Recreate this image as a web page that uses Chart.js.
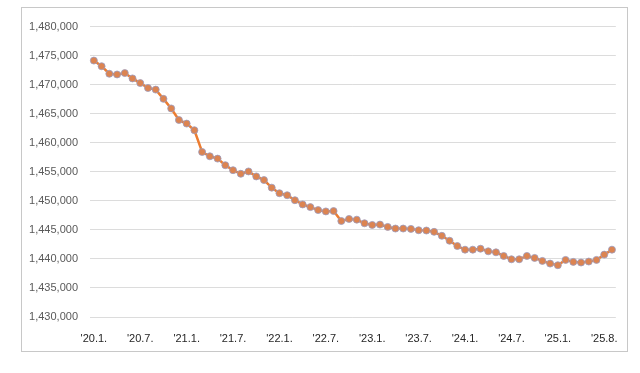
<!DOCTYPE html>
<html>
<head>
<meta charset="utf-8">
<script src="https://cdn.jsdelivr.net/npm/chart.js@4"></script>
<style>
  body { margin: 0; background: #fff; }
  #box {
    position: absolute; left: 21px; top: 7px;
    width: 605px; height: 343px;
    border: 1px solid #c8c8c8;
  }
  canvas { display: block; }
</style>
</head>
<body>
<div id="box"><canvas id="chart" width="605" height="343"></canvas></div>
<script>
// monthly values, '20.1. onward (68 points)
const values = [
  1474150, 1473180, 1471880, 1471760, 1472000, 1471080, 1470280, 1469430, 1469150, 1467560,
  1465910, 1463920, 1463300, 1462160, 1458410, 1457670, 1457270, 1456140, 1455280, 1454660,
  1455060, 1454200, 1453580, 1452270, 1451310, 1450970, 1450110, 1449380, 1448920, 1448410,
  1448180, 1448240, 1446530, 1446880, 1446760, 1446140, 1445850, 1445910, 1445510, 1445230,
  1445230, 1445170, 1444940, 1444890, 1444660, 1443980, 1443130, 1442220, 1441590, 1441590,
  1441760, 1441310, 1441140, 1440510, 1439940, 1439940, 1440510, 1440170, 1439660, 1439200,
  1438920, 1439830, 1439490, 1439380, 1439550, 1439830, 1440740, 1441590
];

// labels shown every 6th point
const xTickLabels = ["'20.1.", "'20.7.", "'21.1.", "'21.7.", "'22.1.", "'22.7.",
  "'23.1.", "'23.7.", "'24.1.", "'24.7.", "'25.1.", "'25.8."];

const yMin = 1430000;
const yMax = 1480000;
const yStep = 5000;

const categories = values.map((v, i) => i);

new Chart(document.getElementById('chart').getContext('2d'), {
  type: 'line',
  data: {
    labels: categories,
    datasets: [{
      data: values,
      borderColor: '#ed7d31',
      borderWidth: 2.5,
      pointRadius: 3.5,
      pointBackgroundColor: '#dc8451',
      pointBorderColor: '#9a9cc0',
      pointBorderWidth: 0.8,
      tension: 0
    }]
  },
  options: {
    responsive: false,
    animation: false,
    layout: { padding: { top: 16, right: 1, left: 0, bottom: 0 } },
    plugins: { legend: { display: false }, tooltip: { enabled: false } },
    scales: {
      x: {
        offset: true,
        grid: { display: false, drawTicks: false },
        border: { display: false },
        afterFit: s => { s.height = 34; },
        ticks: {
          autoSkip: false,
          maxRotation: 0,
          padding: 15,
          color: '#262626',
          font: { family: 'Liberation Sans', size: 11 },
          callback: (val, i) => i % 6 === 0 ? xTickLabels[i / 6] : ''
        }
      },
      y: {
        min: yMin,
        max: yMax,
        grid: { color: '#dcdcdc', drawTicks: false },
        border: { display: false },
        afterFit: s => { s.width = 68; },
        ticks: {
          stepSize: yStep,
          padding: 12,
          color: '#595959',
          font: { family: 'Liberation Sans', size: 11 },
          callback: v => v.toLocaleString('en-US')
        }
      }
    }
  }
});
</script>
</body>
</html>
